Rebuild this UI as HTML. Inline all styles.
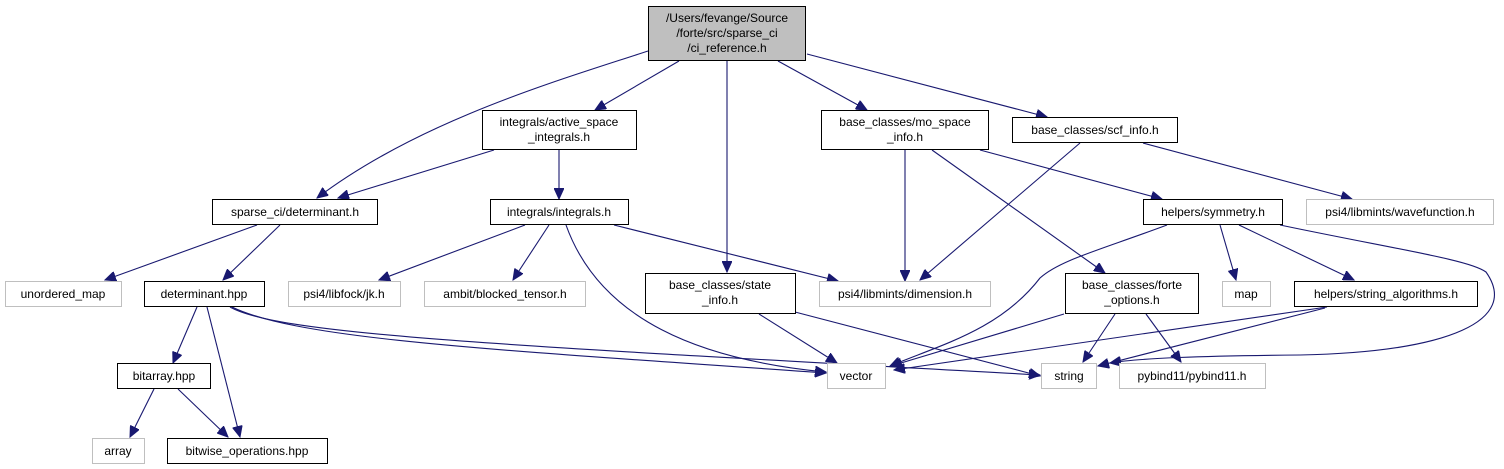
<!DOCTYPE html>
<html><head><meta charset="utf-8"><style>
html,body{margin:0;padding:0;background:#fff;}
svg{display:block;}
text{font-family:"Liberation Sans",sans-serif;font-size:12px;fill:#000;text-anchor:middle;}
.e{fill:none;stroke:#191970;stroke-width:1.1;marker-end:url(#a);}
.b{fill:#fff;stroke:#000;stroke-width:1;}
.g{fill:#fff;stroke:#bfbfbf;stroke-width:1;}
</style></head><body>
<svg width="1504" height="469" viewBox="0 0 1504 469" xmlns="http://www.w3.org/2000/svg">
<defs><marker id="a" markerUnits="userSpaceOnUse" markerWidth="12" markerHeight="10" refX="11" refY="5" orient="auto"><path d="M0,0 L11,5 L0,10 z" fill="#191970" stroke="#191970"/></marker></defs>
<!-- edges -->
<path class="e" d="M648,51 C560,80 420,120 317,198"/>
<path class="e" d="M679,61 L595,110"/>
<path class="e" d="M494,150 L338,198"/>
<path class="e" d="M559,150 L559,199"/>
<path class="e" d="M727,61 L727,272"/>
<path class="e" d="M778,61 L867,110"/>
<path class="e" d="M807,54 L1047,117"/>
<path class="e" d="M905,150 L905,281"/>
<path class="e" d="M1080,143 L920,280"/>
<path class="e" d="M980,150 L1162,199"/>
<path class="e" d="M932,150 L1105,273"/>
<path class="e" d="M1143,143 L1352,199"/>
<path class="e" d="M257,225 L105,280"/>
<path class="e" d="M280,225 L223,280"/>
<path class="e" d="M525,225 L379,280"/>
<path class="e" d="M549,225 L513,280"/>
<path class="e" d="M566,225 C600,320 700,360 826,372"/>
<path class="e" d="M614,225 L838,281"/>
<path class="e" d="M197,307 L173,363"/>
<path class="e" d="M207,307 L240,437"/>
<path class="e" d="M230,307 C280,335 500,345 1040,375"/>
<path class="e" d="M232,307 C300,340 500,350 826,373"/>
<path class="e" d="M154,389 L130,437"/>
<path class="e" d="M178,389 L228,437"/>
<path class="e" d="M759,314 L837,363"/>
<path class="e" d="M795,312 L1040,376"/>
<path class="e" d="M1167,225 C1100,250 1060,260 1040,278 C1000,330 940,345 890,366"/>
<path class="e" d="M1220,225 L1236,280"/>
<path class="e" d="M1239,225 L1354,280"/>
<path class="e" d="M1280,225 C1400,250 1470,260 1486,272 C1520,320 1450,352 1300,355 C1200,356 1140,358 1110,363"/>
<path class="e" d="M1064,314 L891,366"/>
<path class="e" d="M1115,314 L1083,362"/>
<path class="e" d="M1146,314 L1181,362"/>
<path class="e" d="M1327,307 L894,370"/>
<path class="e" d="M1325,308 L1098,366"/>
<!-- nodes -->
<rect x="648.5" y="6.5" width="157" height="54" fill="#bfbfbf" stroke="#000"/>
<text x="727" y="22">/Users/fevange/Source</text><text x="727" y="37">/forte/src/sparse_ci</text><text x="727" y="52">/ci_reference.h</text>
<rect class="b" x="482.5" y="110.5" width="154" height="39"/><text x="559" y="126">integrals/active_space</text><text x="559" y="141">_integrals.h</text>
<rect class="b" x="821.5" y="110.5" width="167" height="39"/><text x="905" y="126">base_classes/mo_space</text><text x="905" y="141">_info.h</text>
<rect class="b" x="1012.5" y="117.5" width="165" height="25"/><text x="1095" y="134">base_classes/scf_info.h</text>
<rect class="b" x="212.5" y="199.5" width="165" height="25"/><text x="295" y="216">sparse_ci/determinant.h</text>
<rect class="b" x="490.5" y="199.5" width="138" height="25"/><text x="559" y="216">integrals/integrals.h</text>
<rect class="b" x="1143.5" y="199.5" width="139" height="25"/><text x="1213" y="216">helpers/symmetry.h</text>
<rect class="g" x="1306.5" y="199.5" width="187" height="25"/><text x="1400" y="216">psi4/libmints/wavefunction.h</text>
<rect class="g" x="5.5" y="281.5" width="116" height="25"/><text x="63" y="298">unordered_map</text>
<rect class="b" x="144.5" y="281.5" width="120" height="25"/><text x="204" y="298">determinant.hpp</text>
<rect class="g" x="288.5" y="281.5" width="112" height="25"/><text x="344" y="298">psi4/libfock/jk.h</text>
<rect class="g" x="424.5" y="281.5" width="161" height="25"/><text x="505" y="298">ambit/blocked_tensor.h</text>
<rect class="b" x="645.5" y="273.5" width="150" height="40"/><text x="720" y="289">base_classes/state</text><text x="720" y="304">_info.h</text>
<rect class="g" x="819.5" y="281.5" width="171" height="25"/><text x="905" y="298">psi4/libmints/dimension.h</text>
<rect class="b" x="1065.5" y="273.5" width="133" height="40"/><text x="1132" y="289">base_classes/forte</text><text x="1132" y="304">_options.h</text>
<rect class="g" x="1222.5" y="281.5" width="48" height="25"/><text x="1246" y="298">map</text>
<rect class="b" x="1294.5" y="281.5" width="183" height="25"/><text x="1386" y="298">helpers/string_algorithms.h</text>
<rect class="b" x="117.5" y="363.5" width="93" height="25"/><text x="164" y="380">bitarray.hpp</text>
<rect class="g" x="827.5" y="363.5" width="58" height="25"/><text x="856" y="380">vector</text>
<rect class="g" x="1041.5" y="363.5" width="55" height="25"/><text x="1069" y="380">string</text>
<rect class="g" x="1119.5" y="363.5" width="146" height="25"/><text x="1192" y="380">pybind11/pybind11.h</text>
<rect class="g" x="92.5" y="438.5" width="52" height="25"/><text x="118" y="455">array</text>
<rect class="b" x="167.5" y="438.5" width="160" height="25"/><text x="247" y="455">bitwise_operations.hpp</text>
</svg>
</body></html>
